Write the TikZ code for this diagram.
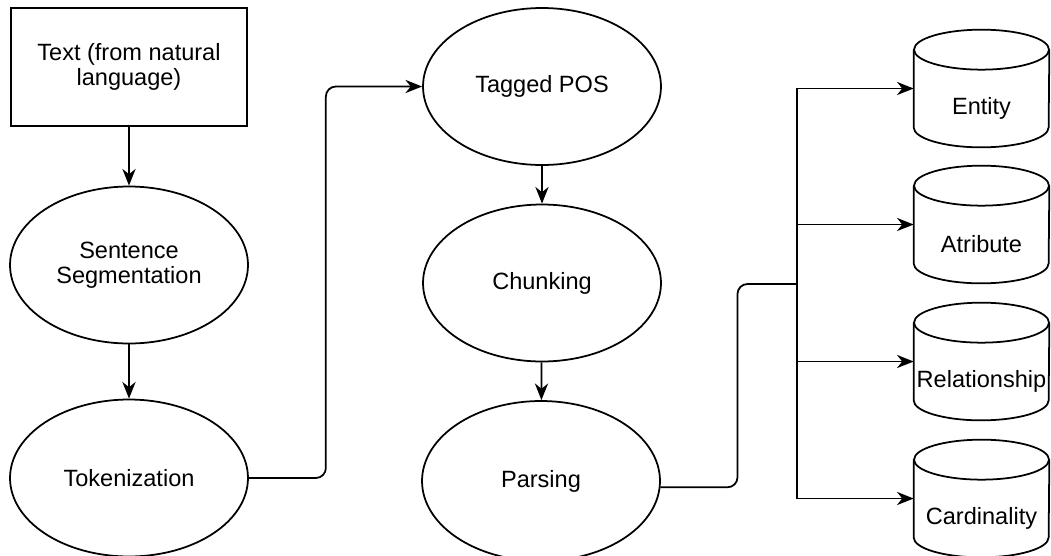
\documentclass[tikz,border=0pt]{standalone}
\usepackage{fontspec}
\setmainfont{Liberation Sans}
\usetikzlibrary{arrows.meta}
\usetikzlibrary{shapes.geometric}

\tikzset{
    every node/.style={font=\fontsize{13.4}{14.2}\selectfont},
    line/.style={line width=1pt, black},
    flow/.style={line, -{Stealth[length=9.5pt, width=7.5pt, inset=3pt]}},
    proc/.style={ellipse, draw, line width=1pt, inner sep=0pt,
        minimum width=4.76cm, minimum height=3.14cm, align=center},
    store/.style={inner sep=0pt, minimum width=2.7cm, minimum height=2.34cm},
}

\begin{document}
\begin{tikzpicture}[x=0.02cm, y=-0.02cm]
\useasboundingbox (0,0) rectangle (1051,555);

% left column
\node[draw, line width=1pt, minimum width=4.72cm, minimum height=2.36cm,
    align=center] (src) at (129,67) {Text (from natural\\language)};
\node[proc] (sent) at (129,265) {Sentence\\Segmentation};
\node[proc] (tok) at (129,478) {Tokenization};

% middle column
\node[proc] (tag) at (542,86.5) {Tagged POS};
\node[proc] (chunk) at (542,283) {Chunking};
\node[proc, minimum height=3.2cm] (parse) at (541,481) {Parsing};

% data stores
\foreach \n/\ty/\txt in {ent/88.5/Entity, attr/224.5/Atribute,
        rel/361.5/Relationship, card/498.5/Cardinality} {
    \node[store, label={[yshift=-0.39cm]center:\txt}] (\n) at (981.5,\ty) {};
    \draw[line] ([yshift=-0.4cm]\n.north west) -- ([yshift=0.4cm]\n.south west)
        arc[start angle=180, end angle=360, x radius=1.35cm, y radius=0.4cm]
        -- ([yshift=-0.4cm]\n.north east);
    \draw[line] ([yshift=-0.4cm]\n.north) ellipse[x radius=1.35cm, y radius=0.4cm];
}

\coordinate (fork) at (797,284);

\draw[flow] (src) -- (sent);
\draw[flow] (sent) -- (tok);
\draw[flow, rounded corners=0.2cm] (tok.east) -- ++(77,0) |- (tag.west);
\draw[flow] (tag) -- (chunk);
\draw[flow] (chunk) -- (parse);
\draw[line, rounded corners=0.2cm] (parse.-3) -- ++(77,0) |- (fork);
\foreach \n in {ent, attr, rel, card}
    \draw[flow] (fork) |- (\n.west);
\end{tikzpicture}
\end{document}
